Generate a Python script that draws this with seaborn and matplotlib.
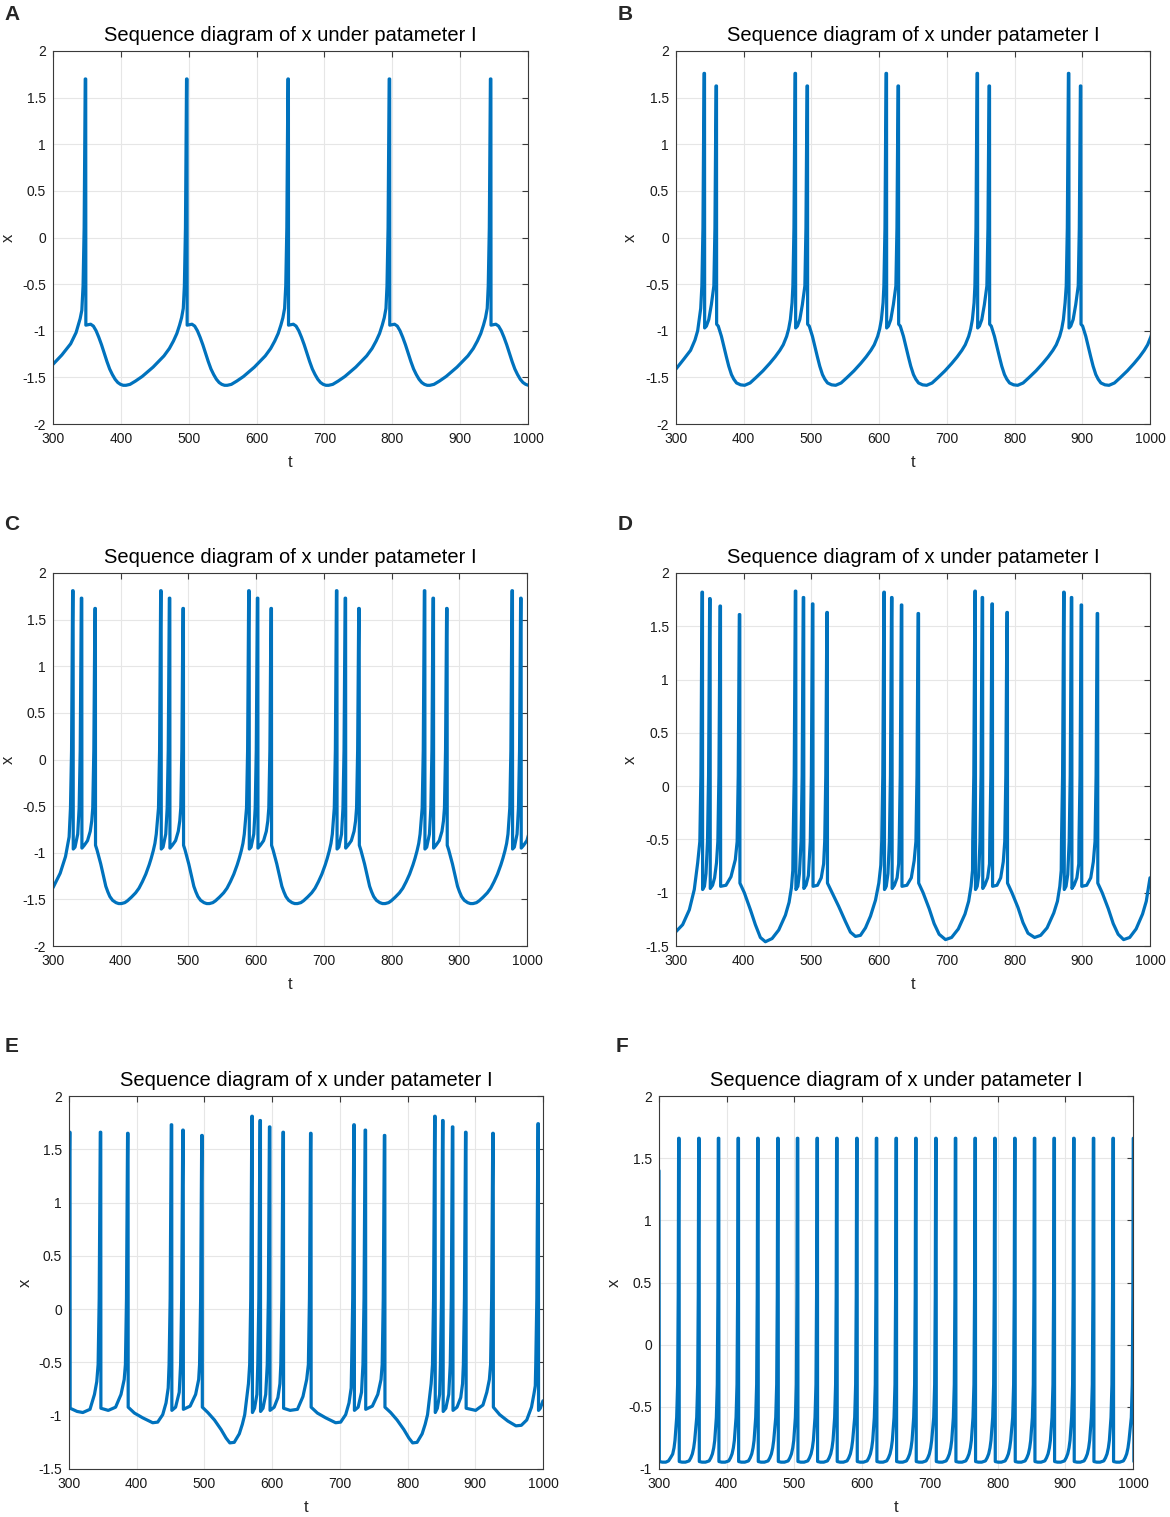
import numpy as np
import pandas as pd
import seaborn as sns
import matplotlib.pyplot as plt
from matplotlib.ticker import FuncFormatter, MultipleLocator

# ---- values ----
# each trace = slow-wave waypoints + spikes (peak time, peak value, value it drops to)

# A: one spike per cycle (cycle profile read once, offsets from the spike)
a_burst_t = [347.5, 496.8, 646.2, 795.4, 944.6]
a_spk_dt = [0.0]
a_spk_peak = [1.70]
a_spk_reset = [-0.94]
a_cycle_dt = [8, 12, 16, 20, 24, 28, 32, 36, 40, 44, 48, 52, 56, 60, 66, 74, 84,
              100, 116, 124, 130, 135, 139, 142, 144.5]
a_cycle_x = [-0.93, -0.95, -1.00, -1.07, -1.15, -1.24, -1.33, -1.41, -1.47, -1.52, -1.555, -1.575, -1.585,
             -1.585, -1.575, -1.54, -1.49, -1.39, -1.27, -1.19, -1.11, -1.03, -0.94, -0.86, -0.76]
a_lead_t = [300, 313, 326, 334, 340, 342.5]
a_lead_x = [-1.36, -1.26, -1.14, -1.02, -0.87, -0.78]

# B: two spikes per burst
b_burst_t = [341.4, 475.8, 610.2, 744.6, 879.5]
b_spk_dt = [0.0, 17.7]
b_spk_peak = [1.76, 1.625]
b_spk_reset = [-0.97, -0.93]
b_cycle_dt = [3.5, 7, 10.8, 21, 25.7, 29, 33, 36.5, 40.5, 44, 48, 54, 60, 68, 77, 87, 97,
              105, 112, 117, 122, 125, 127.5, 130]
b_cycle_x = [-0.95, -0.88, -0.72, -0.95, -1.06, -1.16, -1.28, -1.38, -1.47, -1.52, -1.56, -1.58, -1.585,
             -1.56, -1.50, -1.43, -1.35, -1.28, -1.21, -1.15, -1.06, -0.98, -0.88, -0.70]
b_lead_t = [300, 312, 321.5, 328, 332, 336.5]
b_lead_x = [-1.41, -1.30, -1.21, -1.10, -1.00, -0.76]

# C: three spikes per burst
c_burst_t = [329.0, 459.0, 589.0, 718.6, 848.4, 977.8]
c_spk_dt = [0.0, 12.8, 32.9]
c_spk_peak = [1.81, 1.73, 1.62]
c_spk_reset = [-0.96, -0.95, -0.92]
c_cycle_dt = [3.5, 7.5, 17.2, 22, 26, 28.2, 36, 39, 41.5, 44, 46.5, 49, 52, 55, 59, 64, 68, 72, 77,
              81, 87, 93, 98, 103, 108, 113, 116, 119, 121.5, 123.5]
c_cycle_x = [-0.94, -0.80, -0.92, -0.87, -0.77, -0.66, -0.97, -1.05, -1.12, -1.20, -1.28, -1.36, -1.42,
             -1.47, -1.51, -1.535, -1.545, -1.545, -1.535, -1.515, -1.475, -1.43, -1.38, -1.31, -1.23,
             -1.13, -1.06, -0.98, -0.90, -0.80]
c_lead_t = [300, 310.6, 318.5, 323.8]
c_lead_x = [-1.375, -1.22, -1.04, -0.83]

# D: four spikes per burst, read spike by spike
d_spk_t = [338.4, 349.7, 365.0, 393.5, 476.2, 487.9, 501.5, 522.8, 607.0, 618.3,
           632.8, 657.5, 741.4, 752.1, 766.6, 788.7, 872.5, 883.8, 898.3, 922.0]
d_spk_peak = [1.82, 1.76, 1.69, 1.61, 1.83, 1.77, 1.71, 1.63, 1.82, 1.77,
              1.70, 1.62, 1.83, 1.77, 1.71, 1.63, 1.82, 1.77, 1.70, 1.62]
d_spk_reset = [-0.97, -0.96, -0.94, -0.91, -0.97, -0.96, -0.94, -0.91, -0.97, -0.96,
               -0.94, -0.91, -0.97, -0.96, -0.94, -0.91, -0.97, -0.96, -0.94, -0.91]
d_base_t = [300, 309.8, 319.7, 327, 332,
            342, 344.3, 354, 357, 359.8, 373.8, 381.2, 387.6,
            400.9, 409.9, 417.2, 424.6, 432, 441.9, 451.7, 461.6, 467, 470.5, 472.5,
            480, 482.3, 492, 495.5, 509, 514.5, 518,
            530.5, 540.4, 550.2, 557.6, 565, 572.4, 579.8, 587.2, 594.6, 599.5, 602.5,
            610.5, 613, 622.5, 626.5, 628.8, 641, 647.5, 651.7,
            664.9, 673.9, 681.2, 688.6, 698, 707, 716.9, 726.8, 732.2, 735.7, 737.9,
            744.8, 747, 756, 760.2, 763, 774, 779.5, 783.3,
            796.1, 805.1, 812.4, 819.8, 829.5, 838.5, 848, 857.9, 863.3, 866.8, 868.9,
            876, 878.5, 887.8, 892, 894.8, 906.5, 912.5, 916.3,
            929.4, 938.4, 945.7, 953, 961, 970, 979.5, 989, 994.5, 998, 1000]
d_base_x = [-1.365, -1.30, -1.16, -0.97, -0.72,
            -0.94, -0.82, -0.93, -0.86, -0.72, -0.93, -0.85, -0.69,
            -1.00, -1.16, -1.30, -1.42, -1.46, -1.43, -1.35, -1.21, -1.09, -0.95, -0.79,
            -0.94, -0.82, -0.93, -0.84, -0.93, -0.86, -0.73,
            -1.00, -1.13, -1.27, -1.37, -1.41, -1.40, -1.33, -1.22, -1.07, -0.91, -0.74,
            -0.94, -0.82, -0.93, -0.86, -0.73, -0.93, -0.86, -0.70,
            -1.00, -1.15, -1.29, -1.39, -1.44, -1.42, -1.34, -1.20, -1.08, -0.94, -0.79,
            -0.94, -0.84, -0.93, -0.86, -0.73, -0.93, -0.86, -0.71,
            -1.00, -1.14, -1.28, -1.38, -1.42, -1.40, -1.33, -1.19, -1.08, -0.94, -0.79,
            -0.94, -0.83, -0.93, -0.86, -0.73, -0.93, -0.86, -0.71,
            -1.00, -1.15, -1.29, -1.39, -1.44, -1.42, -1.34, -1.20, -1.08, -0.94, -0.86]

# E: irregular bursting, read spike by spike
e_spk_t = [300.8, 346.2, 386.5, 451.0, 468.0, 496.0, 570.0, 582.0, 596.0, 616.0,
           656.7, 720.6, 737.3, 765.7, 840.0, 851.7, 866.2, 885.6, 925.8, 992.5]
e_spk_peak = [1.66, 1.66, 1.65, 1.73, 1.68, 1.63, 1.81, 1.77, 1.71, 1.66,
              1.65, 1.73, 1.68, 1.63, 1.81, 1.77, 1.71, 1.66, 1.65, 1.74]
e_spk_reset = [-0.93, -0.93, -0.92, -0.95, -0.94, -0.92, -0.97, -0.96, -0.95, -0.93,
               -0.92, -0.95, -0.94, -0.92, -0.97, -0.96, -0.95, -0.93, -0.92, -0.95]
e_base_t = [312, 320.4, 331, 337.6, 341,
            358, 368.8, 376.8, 381.5,
            396.6, 408.9, 423.6, 431, 438.4, 443.3, 446.5,
            457.4, 462.8, 478.9, 487, 491.5,
            505, 514.8, 524.6, 532, 537.5, 544, 551.5, 556, 559.5, 565,
            574, 577.5, 586.5, 590.5, 603, 608.5, 611.5,
            626.6, 637.4, 645.5, 651,
            666.8, 679.1, 693.8, 701.2, 708.6, 713.5, 716.7,
            727, 732, 748, 756, 760.8,
            775, 784.5, 794.5, 802, 807.5, 814, 821.5, 826, 829.5, 834.8,
            844, 847.3, 856.5, 860.8, 873, 878.5, 881.2,
            900.5, 911.3, 917, 920.8,
            936, 948, 960, 968, 976, 983, 986.5, 988.6,
            996, 1000]
e_base_x = [-0.96, -0.97, -0.94, -0.80, -0.68,
            -0.95, -0.92, -0.80, -0.66,
            -0.975, -1.02, -1.066, -1.06, -0.99, -0.88, -0.74,
            -0.92, -0.78, -0.91, -0.80, -0.66,
            -0.97, -1.04, -1.13, -1.21, -1.255, -1.25, -1.17, -1.08, -0.99, -0.70,
            -0.93, -0.80, -0.93, -0.80, -0.92, -0.83, -0.70,
            -0.95, -0.94, -0.82, -0.66,
            -0.975, -1.02, -1.066, -1.06, -0.99, -0.88, -0.74,
            -0.92, -0.78, -0.91, -0.80, -0.66,
            -0.97, -1.04, -1.13, -1.21, -1.255, -1.25, -1.17, -1.08, -0.99, -0.70,
            -0.93, -0.80, -0.93, -0.80, -0.92, -0.83, -0.70,
            -0.95, -0.90, -0.78, -0.66,
            -0.99, -1.05, -1.095, -1.09, -1.04, -0.92, -0.80, -0.72,
            -0.93, -0.86]

# F: tonic spiking
f_burst_t = [329.0, 358.6, 387.6, 416.7, 445.7, 475.3, 504.3, 533.3, 562.3, 591.9, 620.9, 650.0,
             679.0, 708.6, 737.6, 766.6, 795.7, 825.2, 854.3, 883.3, 912.3, 941.4, 970.4, 1000.4]
f_spk_dt = [0.0]
f_spk_peak = [1.66]
f_spk_reset = [-0.94]
f_cycle_dt = [5, 10, 15.4, 18, 20.3, 22.2, 23.7]
f_cycle_x = [-0.945, -0.945, -0.935, -0.91, -0.878, -0.83, -0.77]
f_lead_t = [300, 300.5, 305, 310, 314, 317, 320.2, 322.2, 323.6]
f_lead_x = [1.40, -0.94, -0.945, -0.945, -0.935, -0.91, -0.88, -0.83, -0.77]

# steep upstroke just before a spike peak (offset, value)
rise_dt = [-3.2, -1.6]
rise_x = [-0.52, 0.10]
f_rise_dt = [-2.9, -1.5, -0.6]
f_rise_x = [-0.585, -0.32, 0.40]

title = 'Sequence diagram of x under patameter I'


def tile(burst_t, spk_dt, spk_peak, spk_reset, cycle_dt, cycle_x, lead_t, lead_x):
    spk_t = [b + d for b in burst_t for d in spk_dt]
    peaks = [p for b in burst_t for p in spk_peak]
    resets = [r for b in burst_t for r in spk_reset]
    base_t = list(lead_t) + [b + d for b in burst_t for d in cycle_dt]
    base_x = list(lead_x) + [v for b in burst_t for v in cycle_x]
    return spk_t, peaks, resets, base_t, base_x


def build(spk_t, spk_peak, spk_reset, base_t, base_x, r_dt, r_x):
    pts = list(zip(base_t, base_x))
    for ts, pk, rs in zip(spk_t, spk_peak, spk_reset):
        pts += [(ts + d, v) for d, v in zip(r_dt, r_x)]
        pts += [(ts, pk), (ts + 0.7, pk), (ts + 0.9, rs)]
    pts.sort()
    return pd.DataFrame(pts, columns=['t', 'x'])


series = {
    'A': build(*tile(a_burst_t, a_spk_dt, a_spk_peak, a_spk_reset, a_cycle_dt, a_cycle_x, a_lead_t, a_lead_x), rise_dt, rise_x),
    'B': build(*tile(b_burst_t, b_spk_dt, b_spk_peak, b_spk_reset, b_cycle_dt, b_cycle_x, b_lead_t, b_lead_x), rise_dt, rise_x),
    'C': build(*tile(c_burst_t, c_spk_dt, c_spk_peak, c_spk_reset, c_cycle_dt, c_cycle_x, c_lead_t, c_lead_x), rise_dt, rise_x),
    'D': build(d_spk_t, d_spk_peak, d_spk_reset, d_base_t, d_base_x, rise_dt, rise_x),
    'E': build(e_spk_t, e_spk_peak, e_spk_reset, e_base_t, e_base_x, rise_dt, rise_x),
    'F': build(*tile(f_burst_t, f_spk_dt, f_spk_peak, f_spk_reset, f_cycle_dt, f_cycle_x, f_lead_t, f_lead_x), f_rise_dt, f_rise_x),
}

# panel frames in pixels: left, right, top, bottom, ymin, letter x, letter y, ylabel x
panels = {
    'A': (53, 528, 51, 424, -2.0, 12, 14, 10),
    'B': (676, 1150, 51, 424, -2.0, 625, 14, 632),
    'C': (53, 527, 573, 946, -2.0, 12, 524, 10),
    'D': (676, 1150, 573, 946, -1.5, 625, 524, 632),
    'E': (69, 543, 1096, 1469, -1.5, 12, 1046, 27),
    'F': (659, 1133, 1096, 1469, -1.0, 622, 1046, 616),
}

sns.set_theme(style='white')
plt.rcParams['font.family'] = ['Liberation Sans', 'DejaVu Sans']
plt.rcParams['axes.unicode_minus'] = False

W, H = 1170, 1517
fig = plt.figure(figsize=(W / 100, H / 100), dpi=100)
fig.patch.set_facecolor('white')

for key, (l, r, t, b, ymin, lx, ly, ylx) in panels.items():
    ax = fig.add_axes([l / W, 1 - b / H, (r - l) / W, (b - t) / H])
    df = series[key]
    sns.lineplot(data=df, x='t', y='x', ax=ax, color='#0072BD', linewidth=2.3,
                 sort=False, estimator=None)
    ax.set_xlim(300, 1000)
    ax.set_ylim(ymin, 2)
    ax.xaxis.set_major_locator(MultipleLocator(100))
    ax.yaxis.set_major_locator(MultipleLocator(0.5))
    ax.yaxis.set_major_formatter(FuncFormatter(lambda v, p: f'{v:g}'))
    ax.grid(True, color='#E6E6E6', linewidth=0.8)
    ax.set_axisbelow(True)
    for s in ax.spines.values():
        s.set_visible(True)
        s.set_color('#3A3A3A')
        s.set_linewidth(0.8)
    ax.tick_params(direction='in', top=True, right=True, length=4, width=0.8,
                   color='#3A3A3A', labelsize=10, labelcolor='#1A1A1A', pad=6)
    ax.tick_params(axis='y', pad=5)
    ax.set_title(title, fontsize=14.5, pad=7, color='black')
    ax.set_xlabel('t', fontsize=12)
    ax.set_ylabel('x', fontsize=12)
    w, h = r - l, b - t
    ax.xaxis.set_label_coords(0.5, -(455 - 424) / 373)
    ax.yaxis.set_label_coords((ylx + 6 - l) / w, 0.5)
    fig.text(lx / W, 1 - ly / H, key, fontsize=15, fontweight='bold',
             ha='center', va='center')

fig.savefig('out.png', dpi=100, facecolor='white')
